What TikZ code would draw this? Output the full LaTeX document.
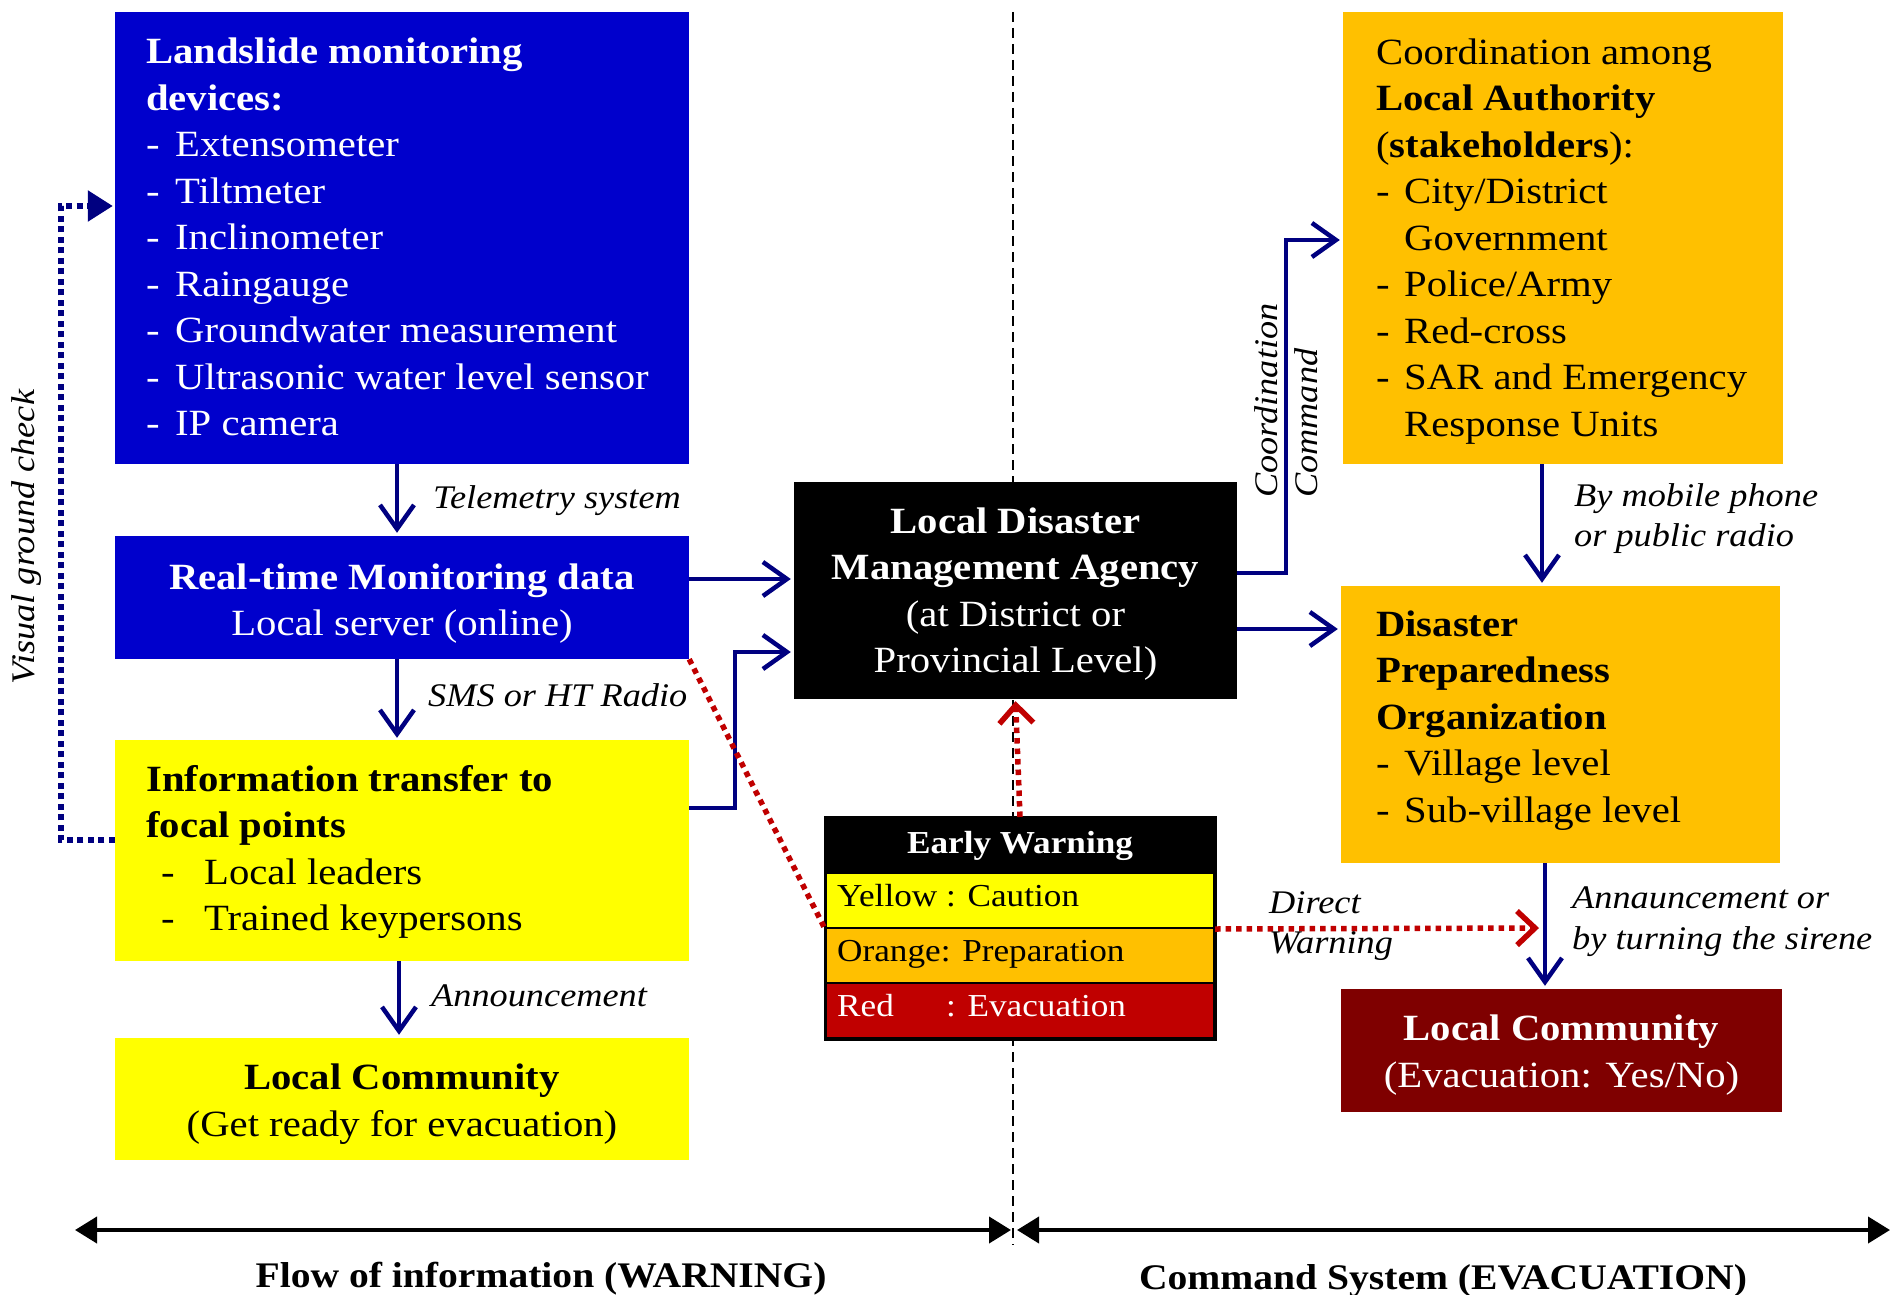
\documentclass[tikz,border=0pt]{standalone}
\usepackage{fontspec}
\setmainfont{Liberation Serif}[FakeStretch=1.1]
\usetikzlibrary{arrows.meta}
\definecolor{boxblue}{RGB}{0,0,204}
\definecolor{navyA}{RGB}{0,0,128}
\definecolor{boxyellow}{RGB}{255,255,0}
\definecolor{boxorange}{RGB}{255,192,0}
\definecolor{boxmaroon}{RGB}{127,0,0}
\definecolor{warnred}{RGB}{192,0,0}
\newcommand\dashit[2][29pt]{\makebox[#1][l]{-}#2}
\tikzset{
  boxnode/.style={inner sep=0pt, draw=none},
  txt/.style={inner sep=0pt, font=\fontsize{37}{46.5}\selectfont, align=left},
  ctxt/.style={inner sep=0pt, font=\fontsize{37}{46.5}\selectfont, align=center},
  lab/.style={inner sep=0pt, font=\fontsize{33}{40.5}\selectfont\itshape, align=left},
  ewtxt/.style={inner sep=0pt, font=\fontsize{32}{38}\selectfont},
  ewrow/.style={inner sep=0pt, draw=black, line width=2pt, minimum width=388pt, minimum height=55pt},
  arr/.style={draw=navyA, line width=4.5pt, -{Straight Barb[length=24pt,width=34pt]}, shorten >=3pt},
  reddot/.style={draw=warnred, line width=5.5pt, dash pattern=on 5.5pt off 5pt},
  redarr/.style={reddot, -{Straight Barb[length=18pt,width=34pt]}, shorten >=2pt},
  gdot/.style={draw=navyA, line width=5.5pt, dash pattern=on 6pt off 4.5pt, -{Triangle[length=25pt,width=30pt]}},
  divider/.style={draw=black, line width=2pt, dash pattern=on 10pt off 6pt},
  dbl/.style={draw=black, line width=4pt, {Triangle[length=22pt,width=26pt]}-{Triangle[length=22pt,width=26pt]}},
  bottomlab/.style={inner sep=0pt, font=\fontsize{36}{40}\selectfont\bfseries}
}
\begin{document}
\begin{tikzpicture}[x=1pt,y=-1pt]
\useasboundingbox[fill=white] (0,0) rectangle (1903,1295);

% divider
\coordinate (divtop) at (1013,12);
\coordinate (divbot) at (1013,1245);
\draw[divider] (divtop) -- (divbot);

% left column boxes
\node[boxnode, fill=boxblue, minimum width=574pt, minimum height=452pt] (land) at (402,238) {};
\node[boxnode, fill=boxblue, minimum width=574pt, minimum height=123pt] (rt) at (402,597.5) {};
\node[boxnode, fill=boxyellow, minimum width=574pt, minimum height=221pt] (info) at (402,850.5) {};
\node[boxnode, fill=boxyellow, minimum width=574pt, minimum height=122pt] (lcy) at (402,1099) {};

\node[txt, text=white, anchor=west] (landtxt) at (146,237) {\textbf{Landslide monitoring}\\\textbf{devices:}\\\dashit{Extensometer}\\\dashit{Tiltmeter}\\\dashit{Inclinometer}\\\dashit{Raingauge}\\\dashit{Groundwater measurement}\\\dashit{Ultrasonic water level sensor}\\\dashit{IP camera}};
\node[ctxt, text=white] (rttxt) at (402,603.5) {\textbf{Real-time Monitoring data}\\Local server (online)};
\node[txt, anchor=west] (infotxt) at (146,852) {\textbf{Information transfer to}\\\textbf{focal points}\\\hspace*{15pt}\dashit[43pt]{Local leaders}\\\hspace*{15pt}\dashit[43pt]{Trained keypersons}};
\node[ctxt] (lcytxt) at (402,1104) {\textbf{Local Community}\\(Get ready for evacuation)};

% centre
\node[boxnode, fill=black, minimum width=443pt, minimum height=217pt] (ldma) at (1015.5,590.5) {};
\node[ctxt, text=white] (ldmatxt) at (1015.5,594) {\textbf{Local Disaster}\\\textbf{Management Agency}\\(at District or\\Provincial Level)};

\node[ewrow, fill=black] (ewh) at (1020,845.5) {};
\node[ewrow, fill=boxyellow] (ewy) at (1020,900.5) {};
\node[ewrow, fill=boxorange] (ewo) at (1020,955.5) {};
\node[ewrow, fill=warnred] (ewr) at (1020,1010.5) {};
\draw[line width=3pt] (ewh.north west) rectangle (ewr.south east);
\node[ewtxt, text=white, font=\fontsize{32}{38}\selectfont\bfseries] (ewhtxt) at (ewh) {Early Warning};
\node[ewtxt, anchor=west] (ewytxt) at (837,895.5) {Yellow : Caution};
\node[ewtxt, anchor=west] (ewotxt) at (837,954) {Orange: Preparation};
\node[ewtxt, anchor=west, text=white] (ewrtxt) at (837,1005.5) {\rlap{Red}\phantom{Yellow }: Evacuation};

% right column
\node[boxnode, fill=boxorange, minimum width=440pt, minimum height=452pt] (coord) at (1563,238) {};
\node[boxnode, fill=boxorange, minimum width=439pt, minimum height=277pt] (dpo) at (1560.5,724.5) {};
\node[boxnode, fill=boxmaroon, minimum width=441pt, minimum height=123pt] (lcr) at (1561.5,1050.5) {};

\node[txt, anchor=west] (coordtxt) at (1376,241.5) {Coordination among\\\textbf{Local Authority}\\(\textbf{stakeholders}):\\\dashit[28pt]{City/District}\\\hspace*{28pt}Government\\\dashit[28pt]{Police/Army}\\\dashit[28pt]{Red-cross}\\\dashit[28pt]{SAR and Emergency}\\\hspace*{28pt}Response Units};
\node[txt, anchor=west] (dpotxt) at (1376,720.5) {\textbf{Disaster}\\\textbf{Preparedness}\\\textbf{Organization}\\\dashit[28pt]{Village level}\\\dashit[28pt]{Sub-village level}};
\node[ctxt, text=white] (lcrtxt) at (1561.5,1055) {\textbf{Local Community}\\(Evacuation: Yes/No)};

% navy arrows left
\draw[arr] (land.south -| 397,0) -- (rt.north -| 397,0);
\node[lab, anchor=west] (telem) at (433,501) {Telemetry system};
\draw[arr] (rt.south -| 397,0) -- ([yshift=-1pt]info.north -| 397,0);
\node[lab, anchor=west] (sms) at (428,695) {SMS or HT Radio};
\draw[arr] (info.south -| 399,0) -- (lcy.north -| 399,0);
\node[lab, anchor=west] (annc) at (431,996) {Announcement};

\draw[arr] (rt.east |- 0,579) -- (ldma.west |- 0,579);
\draw[arr] (info.east |- 0,808) -- (735,808) -- (735,652) -- (ldma.west |- 0,652);

% visual ground check
\draw[gdot] (info.west |- 0,840) -- (61,840) -- (61,206) -- ([xshift=-2pt]land.west |- 0,206);
\node[lab, rotate=90] (vgc) at (27,537) {Visual ground check};

% right navy arrows
\draw[arr] (ldma.east |- 0,573) -- (1286,573) -- (1286,240) -- (coord.west |- 0,240);
\node[lab, rotate=90, anchor=west] (coordlab) at (1266,498) {Coordination};
\node[lab, rotate=90, anchor=west] (cmdlab) at (1306,498) {Command};
\draw[arr] (ldma.east |- 0,629) -- (dpo.west |- 0,629);
\draw[arr] (coord.south -| 1542,0) -- (dpo.north -| 1542,0);
\node[lab, anchor=west] (mobile) at (1574,518.5) {By mobile phone\\or public radio};
\draw[arr] (dpo.south -| 1545,0) -- (lcr.north -| 1545,0);
\node[lab, anchor=west] (siren) at (1572,921.5) {Annauncement or\\by turning the sirene};

% red dotted connectors
\draw[reddot] (rt.south east) -- (ewy.south west);
\draw[redarr] (ewh.north) -- (ldma.south);
\coordinate (dwend) at (1541,928);
\draw[redarr] (ewy.south east) -- (dwend);
\node[lab, anchor=west] (direct) at (1269,926) {Direct\\Warning};

% bottom arrows
\coordinate (bl1) at (75,1230);
\coordinate (bl2) at (1011,1230);
\coordinate (br1) at (1017,1230);
\coordinate (br2) at (1890,1230);
\draw[dbl] (bl1) -- (bl2);
\draw[dbl] (br1) -- (br2);
\node[bottomlab, anchor=base] (flowlab) at (541,1287) {Flow of information (WARNING)};
\node[bottomlab, anchor=base] (cmdsys) at (1443,1289) {Command System (EVACUATION)};
\end{tikzpicture}
\end{document}
